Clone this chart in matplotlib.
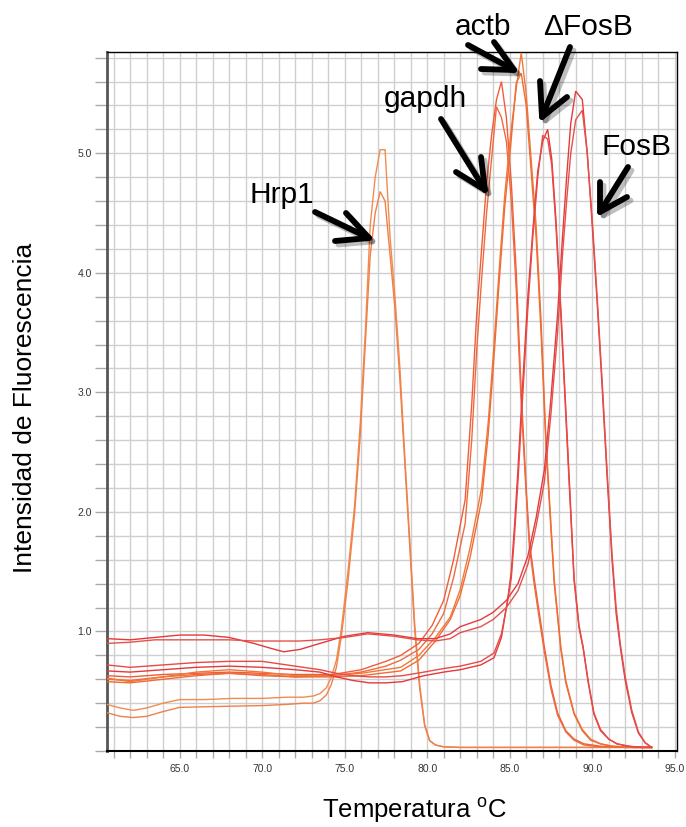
import matplotlib
matplotlib.use('Agg')
import matplotlib.pyplot as plt
from matplotlib.lines import Line2D
import matplotlib.patheffects as pe
from matplotlib.ticker import MultipleLocator, FixedLocator

# ---------------- data ----------------
hrp1_temp = [60.6, 61.4, 62.2, 63.0, 64.0, 65.0, 66.5, 68.2, 70.0, 71.5, 72.5, 73.1, 73.5, 73.9,
             74.2, 74.5, 74.8, 75.2, 75.6, 75.95, 76.25, 76.55, 76.85, 77.15, 77.45, 77.75, 78.05,
             78.35, 78.65, 78.95, 79.25, 79.55, 79.85, 80.15, 80.5, 81.0, 82.0, 84.0, 86.0, 88.0,
             90.0, 92.0, 93.6]
hrp1_a = [0.39, 0.36, 0.34, 0.36, 0.40, 0.43, 0.43, 0.44, 0.44, 0.45, 0.45, 0.46, 0.48, 0.53,
          0.62, 0.76, 1.02, 1.5, 2.05, 2.75, 3.5, 4.4, 4.8, 5.03, 5.03, 4.3, 3.8, 3.2, 2.45, 1.75,
          1.05, 0.55, 0.22, 0.09, 0.05, 0.035, 0.03, 0.03, 0.03, 0.03, 0.03, 0.03, 0.03]
hrp1_b = [0.32, 0.29, 0.28, 0.29, 0.33, 0.365, 0.37, 0.375, 0.38, 0.39, 0.40, 0.40, 0.42, 0.47,
          0.56, 0.70, 0.96, 1.42, 1.98, 2.65, 3.4, 4.15, 4.5, 4.68, 4.60, 4.15, 3.7, 3.1, 2.4, 1.7,
          1.0, 0.52, 0.21, 0.085, 0.05, 0.035, 0.03, 0.03, 0.03, 0.03, 0.03, 0.03, 0.03]

gapdh_temp = [60.6, 62.0, 64.0, 66.0, 68.0, 70.0, 72.0, 74.3, 76.0, 77.5, 78.4, 79.5, 80.3, 81.0,
              81.6, 82.3, 82.7, 83.0, 83.3, 83.6, 83.9, 84.2, 84.5, 84.8, 85.1, 85.4, 85.7, 86.0,
              86.2, 86.5, 86.8, 87.1, 87.5, 87.9, 88.4, 88.9, 89.5, 90.5, 92.0, 93.6]
gapdh_a = [0.63, 0.62, 0.64, 0.65, 0.66, 0.65, 0.64, 0.64, 0.68, 0.75, 0.80, 0.90, 1.05, 1.26,
           1.6, 2.1, 2.9, 3.65, 4.2, 4.75, 5.15, 5.45, 5.60, 5.3, 4.75, 4.0, 3.0, 2.2, 1.75, 1.43,
           1.15, 0.87, 0.55, 0.32, 0.17, 0.10, 0.06, 0.04, 0.03, 0.03]
gapdh_b = [0.60, 0.59, 0.62, 0.64, 0.65, 0.63, 0.62, 0.63, 0.66, 0.71, 0.76, 0.85, 0.98, 1.15,
           1.45, 1.9, 2.6, 3.35, 3.95, 4.5, 4.95, 5.39, 5.30, 5.1, 4.6, 3.85, 2.9, 2.15, 1.7, 1.38,
           1.1, 0.83, 0.52, 0.30, 0.16, 0.09, 0.05, 0.035, 0.03, 0.03]

actb_temp = [60.6, 62.0, 64.0, 66.0, 68.0, 70.0, 72.0, 74.3, 76.0, 78.4, 79.5, 80.5, 81.4, 82.0,
             82.6, 83.3, 83.7, 84.0, 84.35, 84.7, 85.05, 85.4, 85.7, 86.0, 86.3, 86.6, 86.9, 87.2,
             87.5, 87.7, 88.1, 88.4, 88.9, 89.4, 89.9, 90.5, 91.2, 92.5, 93.6]
actb_a = [0.61, 0.58, 0.62, 0.66, 0.68, 0.66, 0.63, 0.63, 0.65, 0.70, 0.80, 0.95, 1.12, 1.35,
          1.7, 2.2, 2.75, 3.3, 4.0, 4.65, 5.15, 5.55, 5.84, 5.5, 4.95, 4.4, 3.6, 2.6, 1.9, 1.43,
          0.87, 0.59, 0.32, 0.18, 0.10, 0.06, 0.04, 0.03, 0.03]
actb_b = [0.58, 0.57, 0.60, 0.63, 0.65, 0.64, 0.62, 0.62, 0.63, 0.67, 0.76, 0.92, 1.10, 1.30,
          1.62, 2.1, 2.65, 3.2, 3.9, 4.55, 5.05, 5.59, 5.67, 5.4, 4.85, 4.3, 3.5, 2.55, 1.85, 1.40,
          0.85, 0.57, 0.31, 0.17, 0.09, 0.06, 0.04, 0.03, 0.03]

dfosb_temp = [60.6, 62.0, 64.0, 66.0, 68.0, 70.0, 72.0, 73.5, 74.5, 75.5, 76.5, 77.5, 78.5, 79.8,
              81.0, 82.0, 83.25, 84.05, 84.5, 84.87, 85.1, 85.3, 85.5, 85.8, 86.1, 86.4, 86.7, 87.0,
              87.3, 87.55, 87.8, 88.1, 88.35, 88.6, 88.9, 89.2, 89.45, 89.75, 90.1, 90.5, 91.0,
              91.5, 92.2, 93.0, 93.6]
dfosb_a = [0.67, 0.66, 0.68, 0.70, 0.71, 0.70, 0.68, 0.66, 0.62, 0.59, 0.57, 0.57, 0.58, 0.63,
           0.66, 0.68, 0.72, 0.78, 0.95, 1.26, 1.5, 1.9, 2.35, 3.1, 3.8, 4.35, 4.85, 5.1, 5.20,
           4.95, 4.45, 3.7, 3.0, 2.3, 1.45, 1.05, 0.87, 0.59, 0.32, 0.18, 0.10, 0.06, 0.04, 0.03, 0.03]
dfosb_b = [0.72, 0.70, 0.72, 0.74, 0.75, 0.75, 0.71, 0.68, 0.65, 0.63, 0.62, 0.62, 0.63, 0.66,
           0.69, 0.71, 0.75, 0.82, 0.98, 1.25, 1.45, 1.82, 2.25, 3.0, 3.7, 4.3, 4.8, 5.15, 5.12,
           4.9, 4.4, 3.65, 2.95, 2.25, 1.43, 1.03, 0.86, 0.58, 0.31, 0.17, 0.10, 0.06, 0.04, 0.03, 0.03]

fosb_temp = [60.6, 62.0, 63.5, 65.0, 66.5, 68.0, 69.5, 70.5, 71.3, 72.3, 73.5, 75.0, 76.4, 78.0,
             79.4, 80.5, 81.4, 82.0, 83.25, 84.0, 84.8, 85.5, 86.1, 86.6, 87.1, 87.5, 87.9, 88.2,
             88.45, 88.7, 89.0, 89.4, 89.7, 90.0, 90.3, 90.6, 90.9, 91.2, 91.45, 91.7, 92.0, 92.4,
             92.8, 93.2, 93.6]
fosb_a = [0.94, 0.93, 0.95, 0.97, 0.97, 0.95, 0.90, 0.86, 0.83, 0.85, 0.90, 0.96, 0.99, 0.97,
          0.94, 0.94, 0.98, 1.04, 1.10, 1.16, 1.26, 1.40, 1.63, 1.95, 2.35, 2.95, 3.65, 4.3, 4.8,
          5.25, 5.52, 5.45, 5.0, 4.4, 3.75, 3.05, 2.3, 1.6, 1.15, 0.87, 0.59, 0.32, 0.15, 0.07, 0.03]
fosb_b = [0.90, 0.91, 0.93, 0.93, 0.93, 0.93, 0.92, 0.92, 0.92, 0.92, 0.93, 0.95, 0.98, 0.96,
          0.93, 0.92, 0.94, 0.99, 1.04, 1.10, 1.20, 1.34, 1.56, 1.88, 2.25, 2.82, 3.5, 4.15, 4.6,
          5.0, 5.28, 5.36, 5.0, 4.45, 3.8, 3.1, 2.35, 1.65, 1.2, 0.9, 0.62, 0.34, 0.16, 0.07, 0.03]

x_major = [65, 70, 75, 80, 85, 90, 95]
x_labels = ['65.0', '70.0', '75.0', '80.0', '85.0', '90.0', '95.0']
y_major = [1, 2, 3, 4, 5]
y_labels = ['1.0', '2.0', '3.0', '4.0', '5.0']

gene_labels = ['Hrp1', 'gapdh', 'actb', '\u0394FosB', 'FosB']

# ---------------- figure ----------------
plt.rcParams['font.family'] = ['Liberation Sans', 'DejaVu Sans']
plt.rcParams['mathtext.fontset'] = 'custom'
plt.rcParams['mathtext.rm'] = 'Liberation Sans'

W, H = 686, 827
fig = plt.figure(figsize=(W / 100, H / 100), dpi=100)
L, R, T, B = 107, 676.7, 52.3, 751
ax = fig.add_axes([L / W, 1 - B / H, (R - L) / W, (B - T) / H])
ax.set_xlim(60.6, 95.12)
ax.set_ylim(0, 5.845)

series = [
    (hrp1_temp, hrp1_a, '#F28C4E'),
    (hrp1_temp, hrp1_b, '#F0804A'),
    (gapdh_temp, gapdh_a, '#EE5E3A'),
    (gapdh_temp, gapdh_b, '#F06A3E'),
    (actb_temp, actb_a, '#F27838'),
    (actb_temp, actb_b, '#EE6C36'),
    (dfosb_temp, dfosb_a, '#E4393B'),
    (dfosb_temp, dfosb_b, '#E84A46'),
    (fosb_temp, fosb_a, '#E23A3E'),
    (fosb_temp, fosb_b, '#E6504A'),
]
for xs, ys, c in series:
    ax.plot(xs, ys, color=c, lw=1.0, solid_joinstyle='miter', zorder=3)

ax.xaxis.set_major_locator(FixedLocator(x_major))
ax.set_xticklabels(x_labels)
ax.xaxis.set_minor_locator(MultipleLocator(1))
ax.yaxis.set_major_locator(FixedLocator(y_major))
ax.set_yticklabels(y_labels)
ax.yaxis.set_minor_locator(MultipleLocator(0.2))
ax.grid(which='both', color='#cfcfcf', lw=1.0)
ax.set_axisbelow(True)

ax.tick_params(axis='x', which='both', direction='out', length=5, width=1,
               color='#aaaaaa', labelsize=7.5, labelcolor='#333333', pad=4)
ax.tick_params(axis='y', which='both', direction='out', length=9, width=1,
               color='#aaaaaa', labelsize=7.5, labelcolor='#333333', pad=2)

ax.spines['left'].set_color('#555555')
ax.spines['left'].set_linewidth(2)
ax.spines['bottom'].set_color('black')
ax.spines['bottom'].set_linewidth(1.5)
ax.spines['top'].set_color('black')
ax.spines['top'].set_linewidth(1)
ax.spines['right'].set_color('black')
ax.spines['right'].set_linewidth(1)

# axis titles
fig.text(25 / W, 1 - 408 / H, 'Intensidad de Fluorescencia', rotation=90,
         ha='center', va='center', fontsize=19)
fig.text(415 / W, 1 - 818 / H, r'Temperatura $^{\mathrm{o}}$C', ha='center',
         va='baseline', fontsize=18.5)

# annotation labels and arrows (positions in pixels from top-left)
label_pos = [(281.5, 203), (425, 107), (483.5, 35), (588, 35), (637, 155)]
arrows = [
    ((315, 212), (369, 238), (346, 213), (335, 241)),
    ((441, 119), (485, 190), (456, 172), (481, 157)),
    ((468, 45), (514, 70), (481, 69), (494, 42)),
    ((570, 47), (542, 117), (540, 81), (567, 97)),
    ((628, 167), (600, 212), (600, 182), (627, 197)),
]


def fp(p):
    return (p[0] / W, 1 - p[1] / H)


shadow = [pe.SimpleLineShadow(offset=(2.5, -2.5), shadow_color='black', alpha=0.25),
          pe.Normal()]
for (lx, ly), txt in zip(label_pos, gene_labels):
    fig.text(lx / W, 1 - ly / H, txt, ha='center', va='baseline', fontsize=21.5)
for tail, tip, b1, b2 in arrows:
    shaft = Line2D([fp(tail)[0], fp(tip)[0]], [fp(tail)[1], fp(tip)[1]],
                   transform=fig.transFigure, color='black', lw=4.2,
                   solid_capstyle='round', path_effects=shadow, zorder=10)
    head = Line2D([fp(b1)[0], fp(tip)[0], fp(b2)[0]], [fp(b1)[1], fp(tip)[1], fp(b2)[1]],
                  transform=fig.transFigure, color='black', lw=4.2,
                  solid_capstyle='round', solid_joinstyle='round', path_effects=shadow,
                  zorder=10)
    fig.add_artist(shaft)
    fig.add_artist(head)

fig.savefig('out.png', dpi=100)
